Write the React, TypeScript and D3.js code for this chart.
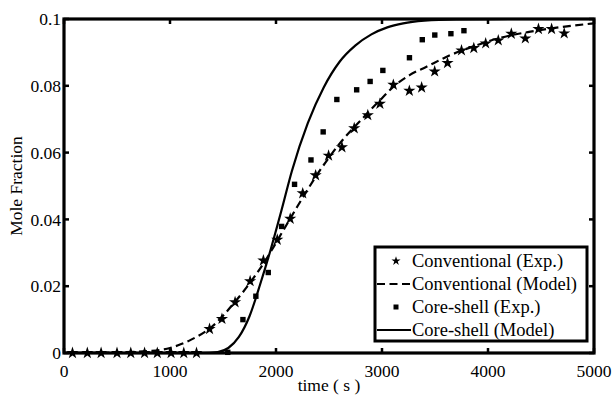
import React from 'react';
import * as d3 from 'd3';

// Conventional (Exp.) - star markers
const convTime = [80, 220, 350, 500, 630, 760, 880, 1010, 1130, 1250, 1373, 1490, 1614, 1756, 1881, 2012, 2134, 2252, 2374, 2496, 2622, 2738, 2866, 2980, 3107, 3258, 3374, 3497, 3618, 3750, 3866, 3978, 4097, 4220, 4352, 4476, 4600, 4719];
const convVal = [0, 0, 0, 0, 0, 0, 0, 0, 0, 0, 0.0072, 0.0102, 0.0152, 0.0215, 0.0277, 0.0339, 0.0402, 0.0478, 0.0532, 0.0591, 0.0616, 0.0673, 0.0712, 0.0746, 0.0803, 0.0785, 0.0795, 0.0843, 0.0868, 0.0906, 0.0913, 0.0927, 0.0936, 0.0956, 0.0942, 0.0970, 0.0970, 0.0957];

// Core-shell (Exp.) - square markers
const coreTime = [1545, 1688, 1810, 1927, 2053, 2175, 2330, 2445, 2574, 2761, 2888, 3008, 3259, 3380, 3498, 3650, 3773];
const coreVal = [0.0002, 0.0100, 0.0170, 0.0241, 0.0379, 0.0505, 0.0578, 0.0662, 0.0759, 0.0788, 0.0813, 0.0846, 0.0884, 0.0938, 0.0952, 0.0956, 0.0965];

// Conventional (Model) - dashed line
const convModelTime = [0, 400, 800, 1000, 1100, 1200, 1400, 1600, 1800, 1900, 2000, 2100, 2200, 2300, 2400, 2500, 2600, 2800, 2920, 3000, 3100, 3260, 3420, 3610, 3740, 3900, 4000, 4200, 4400, 4600, 4800, 5000];
const convModelVal = [0, 0.0001, 0.0006, 0.0015, 0.0026, 0.0040, 0.0080, 0.0148, 0.0230, 0.0277, 0.0330, 0.0384, 0.0438, 0.0490, 0.0540, 0.0585, 0.0627, 0.0697, 0.0737, 0.0763, 0.0795, 0.0832, 0.0857, 0.0887, 0.0904, 0.0922, 0.0933, 0.0950, 0.0962, 0.0972, 0.0980, 0.0987];

// Core-shell (Model) - solid line
const coreModelTime = [0, 1000, 1300, 1450, 1550, 1650, 1750, 1850, 1950, 2050, 2150, 2300, 2450, 2600, 2750, 2900, 3050, 3200, 3400, 3700, 4200, 5000];
const coreModelVal = [0, 0, 0, 0.0003, 0.0015, 0.0048, 0.0110, 0.0205, 0.0310, 0.0425, 0.0545, 0.0688, 0.0795, 0.0872, 0.0921, 0.0954, 0.0975, 0.0987, 0.0995, 0.0999, 0.1000, 0.1000];

const xTicks = [0, 1000, 2000, 3000, 4000, 5000];
const yTicks = [0, 0.02, 0.04, 0.06, 0.08, 0.1];
const yTickLabels = ['0', '0.02', '0.04', '0.06', '0.08', '0.1'];

const legendLabels = ['Conventional (Exp.)', 'Conventional (Model)', 'Core-shell (Exp.)', 'Core-shell (Model)'];

const W = 614;
const H = 396;
const FONT = '"Liberation Serif", "Times New Roman", serif';

export default function App() {
  const left = 64, right = 594, top = 19, bottom = 353;
  const x = d3.scaleLinear().domain([0, 5000]).range([left, right]);
  const y = d3.scaleLinear().domain([0, 0.1]).range([bottom, top]);

  const line = d3.line<[number, number]>()
    .x(d => x(d[0]))
    .y(d => y(d[1]))
    .curve(d3.curveMonotoneX);

  const convModel = convModelTime.map((t, i) => [t, convModelVal[i]] as [number, number]);
  const coreModel = coreModelTime.map((t, i) => [t, coreModelVal[i]] as [number, number]);

  const star = d3.symbol().type(d3.symbolStar).size(46)() as string;
  const smallStar = d3.symbol().type(d3.symbolStar).size(26)() as string;

  // legend geometry
  const lx = 375, ly = 247, lw = 212, lh = 94;
  const rowY = [261, 284, 307, 330];

  return (
    <svg width={W} height={H} style={{ position: 'absolute', left: 0, top: 0, background: '#fff' }}
      fontFamily={FONT}>
      <rect width={W} height={H} fill="#fff" />

      {/* model curves */}
      <path d={line(convModel) as string} fill="none" stroke="#000" strokeWidth={2.2}
        strokeDasharray="8,4.5" />
      <path d={line(coreModel) as string} fill="none" stroke="#000" strokeWidth={2.2} />

      {/* experimental points */}
      {coreTime.map((t, i) => (
        <rect key={'c' + i} x={x(t) - 2.7} y={y(coreVal[i]) - 2.7} width={5.4} height={5.4} fill="#000" />
      ))}
      {convTime.map((t, i) => (
        <path key={'s' + i} d={star} transform={`translate(${x(t)},${y(convVal[i])})`} fill="#000" />
      ))}

      {/* frame */}
      <rect x={left} y={top} width={right - left} height={bottom - top} fill="none" stroke="#000" strokeWidth={3.2} />

      {/* ticks */}
      {xTicks.map(t => (
        <g key={'xt' + t}>
          <line x1={x(t)} x2={x(t)} y1={bottom} y2={bottom - 5} stroke="#000" strokeWidth={2.5} />
          <line x1={x(t)} x2={x(t)} y1={top} y2={top + 5} stroke="#000" strokeWidth={2.5} />
          <text x={x(t)} y={377} textAnchor="middle" fontSize={17.5}>{t}</text>
        </g>
      ))}
      {yTicks.map((v, i) => (
        <g key={'yt' + i}>
          <line x1={left} x2={left + 5} y1={y(v)} y2={y(v)} stroke="#000" strokeWidth={2.5} />
          <line x1={right} x2={right - 5} y1={y(v)} y2={y(v)} stroke="#000" strokeWidth={2.5} />
          <text x={61} y={y(v)} dy="0.35em" textAnchor="end" fontSize={17.5}>{yTickLabels[i]}</text>
        </g>
      ))}

      {/* axis labels */}
      <text x={(left + right) / 2} y={391} textAnchor="middle" fontSize={17.5}>time ( s )</text>
      <text transform={`translate(22,${(top + bottom) / 2}) rotate(-90)`} textAnchor="middle" fontSize={17.5}>
        Mole Fraction
      </text>

      {/* legend */}
      <rect x={lx} y={ly} width={lw} height={lh} fill="#fff" stroke="#000" strokeWidth={3} />
      <path d={smallStar} transform={`translate(396,${rowY[0]})`} fill="#000" />
      <line x1={377} x2={411} y1={rowY[1]} y2={rowY[1]} stroke="#000" strokeWidth={2.2} strokeDasharray="8,4.5" />
      <rect x={393.5} y={rowY[2] - 2.5} width={5} height={5} fill="#000" />
      <line x1={377} x2={411} y1={rowY[3]} y2={rowY[3]} stroke="#000" strokeWidth={2.2} />
      {legendLabels.map((l, i) => (
        <text key={l} x={412} y={rowY[i]} dy="0.35em" fontSize={18.5}>{l}</text>
      ))}
    </svg>
  );
}
